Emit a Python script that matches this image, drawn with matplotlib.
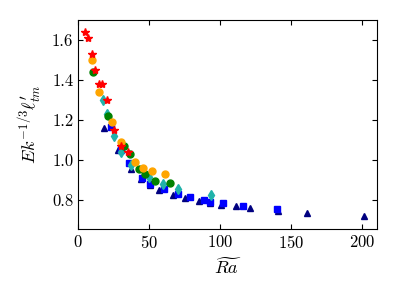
import numpy as np
import matplotlib
matplotlib.use("Agg")
import matplotlib.pyplot as plt

plt.rcParams["font.family"] = "serif"
plt.rcParams["font.serif"] = ["cmr10"]
plt.rcParams["mathtext.fontset"] = "cm"
plt.rcParams["axes.formatter.use_mathtext"] = True

# red stars
star_x = [5, 7, 10, 12, 15, 17, 20, 25, 30, 35]
star_y = [1.64, 1.61, 1.53, 1.45, 1.38, 1.38, 1.30, 1.15, 1.07, 1.04]
# orange circles
orange_x = [10, 15, 24, 30, 40, 45.5, 52, 61]
orange_y = [1.50, 1.34, 1.19, 1.09, 0.99, 0.96, 0.945, 0.93]
# green circles
green_x = [10.6, 21.3, 32.5, 36.7, 43, 47.4, 54, 65]
green_y = [1.44, 1.22, 1.07, 1.03, 0.955, 0.93, 0.897, 0.883]
# cyan diamonds
cyan_x = [17.2, 20.6, 25, 30.2, 37.5, 50, 59.6, 70, 93.5]
cyan_y = [1.30, 1.23, 1.12, 1.04, 0.977, 0.913, 0.878, 0.853, 0.825]
# blue squares
sq_x = [22.8, 30, 35.6, 45, 50.8, 60.5, 70, 79, 88.4, 93, 102, 116, 140]
sq_y = [1.167, 1.048, 0.985, 0.912, 0.882, 0.853, 0.83, 0.815, 0.80, 0.79, 0.783, 0.77, 0.753]
# navy triangles
tri_x = [18.3, 27.8, 37.5, 44.3, 50.7, 56.6, 66.7, 75, 85, 93, 100.5, 111, 121, 141, 161, 201.5]
tri_y = [1.158, 1.052, 0.953, 0.903, 0.875, 0.85, 0.825, 0.808, 0.795, 0.783, 0.775, 0.77, 0.762, 0.747, 0.737, 0.722]

fig = plt.figure(figsize=(3.99, 2.99), dpi=100)
ax = fig.add_axes([0.196, 0.234, 0.749, 0.699])

ms = 5
ax.plot(tri_x, tri_y, '^', color='navy', ms=ms, ls='none')
ax.plot(sq_x, sq_y, 's', color='blue', ms=ms, ls='none')
ax.plot(cyan_x, cyan_y, 'd', color='lightseagreen', ms=ms, ls='none')
ax.plot(green_x, green_y, 'o', color='green', ms=ms, ls='none')
ax.plot(orange_x, orange_y, 'o', color='orange', ms=ms, ls='none')
ax.plot(star_x, star_y, '*', color='red', ms=6, ls='none')

ax.set_xlim(0, 210.5)
ax.set_ylim(0.655, 1.70)
ax.set_xticks([0, 50, 100, 150, 200])
ax.set_yticks([0.8, 1.0, 1.2, 1.4, 1.6])
ax.set_yticklabels(['0.8', '1.0', '1.2', '1.4', '1.6'])
ax.tick_params(direction='in', top=True, right=True, labelsize=12)

ax.set_xlabel(r'$\widetilde{Ra}$', fontsize=13)
ax.set_ylabel(r"$Ek^{-1/3}\ell^{\prime}_{tm}$", fontsize=13, labelpad=6)

fig.savefig("out.png", dpi=100)
